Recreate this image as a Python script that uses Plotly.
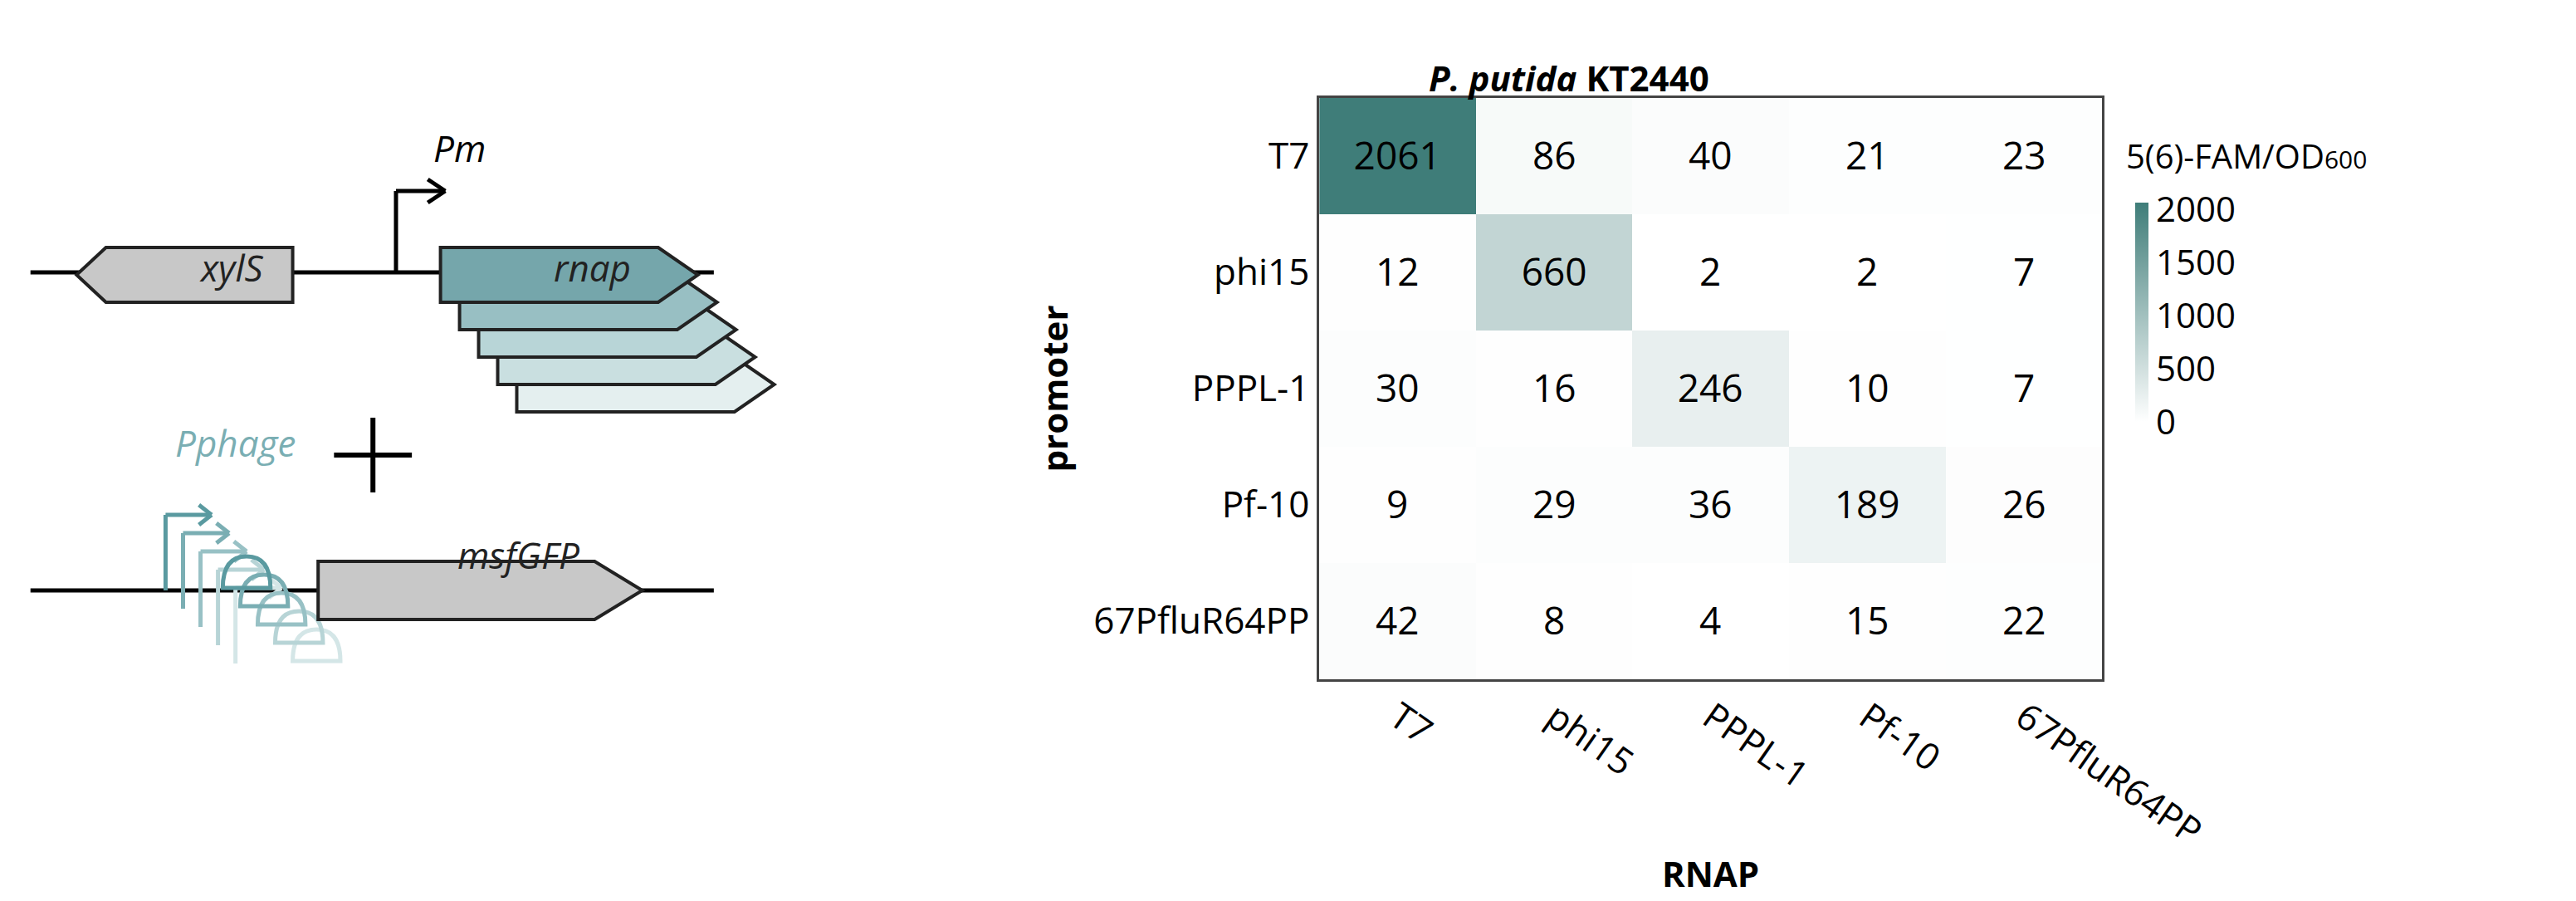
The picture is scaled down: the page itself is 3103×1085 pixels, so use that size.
import plotly.graph_objects as go

rnap = ["T7", "phi15", "PPPL-1", "Pf-10", "67PfluR64PP"]
promoters = ["T7", "phi15", "PPPL-1", "Pf-10", "67PfluR64PP"]
values = [
    [2061, 86, 40, 21, 23],
    [12, 660, 2, 2, 7],
    [30, 16, 246, 10, 7],
    [9, 29, 36, 189, 26],
    [42, 8, 4, 15, 22],
]
cbar_ticks = [0, 500, 1000, 1500, 2000]

W, H = 3103, 1085
FONT = "Open Sans"

def px(x):
    return x / W

def py(y):
    return 1 - y / H

fig = go.Figure()
fig.add_trace(go.Heatmap(
    x=rnap, y=promoters, z=values,
    text=[[str(v) for v in r] for r in values], texttemplate="%{text}",
    textfont=dict(size=46, color="black", family=FONT),
    colorscale=[[0, "#ffffff"], [1, "#3f7d79"]], zmin=0, zmax=2061, xgap=0, ygap=0,
    colorbar=dict(x=px(2668), xanchor="left", y=py(226), yanchor="top", len=(510 - 226) / H,
                  thickness=16, tickvals=cbar_ticks, ticks="", outlinewidth=0,
                  tickfont=dict(size=42, family=FONT, color="black")),
))

fig.update_layout(
    width=W, height=H, margin=dict(l=0, r=0, t=0, b=0),
    plot_bgcolor="white", paper_bgcolor="white",
    xaxis=dict(domain=[px(1652), px(2637)], tickangle=35, showgrid=False, ticks="",
               tickfont=dict(size=44, family=FONT, color="black"),
               showline=True, mirror=True, linecolor="#444", linewidth=3,
               title=dict(text="<b>RNAP</b>", font=dict(size=42, family=FONT, color="black"), standoff=10)),
    yaxis=dict(domain=[py(810), py(110)], autorange="reversed", showgrid=False, ticks="",
               tickfont=dict(size=44, family=FONT, color="black"),
               showline=True, mirror=True, linecolor="#444", linewidth=3,
               title=dict(text="<b>promoter</b>", font=dict(size=42, family=FONT, color="black"), standoff=18)),
)

ann = []
ann.append(dict(text="<b><i>P. putida</i> KT2440</b>", x=px(2145), y=py(55), xref="paper", yref="paper",
                showarrow=False, font=dict(size=42, family=FONT, color="black")))
ann.append(dict(text="5(6)-FAM/OD<span style='font-size:30px'>600</span>", x=px(2665), y=py(150), xref="paper", yref="paper",
                xanchor="left", showarrow=False, font=dict(size=40, family=FONT, color="black")))

shapes = []
def line(x0, y0, x1, y1, color="black", w=5):
    shapes.append(dict(type="line", xref="paper", yref="paper", x0=px(x0), y0=py(y0), x1=px(x1), y1=py(y1),
                       line=dict(color=color, width=w)))

def poly(pts, fill, lc="#222", w=4):
    path = "M " + " L ".join(f"{px(x)},{py(y)}" for x, y in pts) + " Z"
    shapes.append(dict(type="path", xref="paper", yref="paper", path=path, fillcolor=fill,
                       line=dict(color=lc, width=w)))

OFF = 40
# top construct
line(30, 320, 890, 320)
rn_cols = ["#e4efef", "#c9dfe0", "#b8d5d7", "#98bfc3", "#75a6ab"]
for i in range(4, -1, -1):
    dx, dy = 24 * i, 33 * i
    x0, x1, y0, y1 = 546 + dx, 820 + dx, 290 + dy, 356 + dy
    poly([(x0, y0), (x1, y0), (x1 + 50, (y0 + y1) / 2), (x1, y1), (x0, y1)], rn_cols[4 - i] if i else "#75a6ab")
poly([(360, 290), (125, 290), (88, 323), (125, 356), (360, 356)], "#c8c8c8")
ann.append(dict(text="<i>xylS</i>", x=px(240), y=py(322 - OFF), xref="paper", yref="paper", showarrow=False,
                font=dict(size=44, family=FONT, color="#222")))
ann.append(dict(text="<i>rnap</i>", x=px(686), y=py(322 - OFF), xref="paper", yref="paper", showarrow=False,
                font=dict(size=44, family=FONT, color="#222")))
line(490, 320, 490, 222)
line(490, 222, 552, 222)
line(552, 222, 530, 208)
line(552, 222, 530, 236)
ann.append(dict(text="<i>Pm</i>", x=px(535), y=py(178 - OFF), xref="paper", yref="paper", showarrow=False,
                font=dict(size=44, family=FONT, color="black")))
# plus
line(412, 540, 510, 540, w=6)
line(461, 495, 461, 585, w=6)

# bottom construct
line(30, 703, 890, 703)
tc = ["#5a9aa0", "#7aaeb3", "#98c1c5", "#b7d4d6", "#d4e6e7"]
for i in range(4, -1, -1):
    dx, dy = 22 * i, 22 * i
    c = tc[i]
    line(200 + dx, 703 + dy, 200 + dx, 612 + dy, c, 5)
    line(200 + dx, 612 + dy, 258 + dx, 612 + dy, c, 5)
    line(258 + dx, 612 + dy, 242 + dx, 600 + dy, c, 5)
    line(258 + dx, 612 + dy, 242 + dx, 624 + dy, c, 5)
    shapes.append(dict(type="path", xref="paper", yref="paper",
                       path=f"M {px(272+dx)},{py(700+dy)} Q {px(272+dx)},{py(662+dy)} {px(302+dx)},{py(662+dy)} Q {px(332+dx)},{py(662+dy)} {px(332+dx)},{py(700+dy)} Z",
                       line=dict(color=c, width=5)))
poly([(392, 668), (740, 668), (800, 703), (740, 738), (392, 738)], "#c8c8c8")
ann.append(dict(text="<i>msfGFP</i>", x=px(565), y=py(700 - OFF), xref="paper", yref="paper", showarrow=False,
                font=dict(size=44, family=FONT, color="#222")))
ann.append(dict(text="<i>Pphage</i>", x=px(210), y=py(565 - OFF), xref="paper", yref="paper", showarrow=False,
                font=dict(size=44, family=FONT, color="#7aaeb3")))

fig.update_layout(shapes=shapes, annotations=ann)
fig.write_html("out.html")
